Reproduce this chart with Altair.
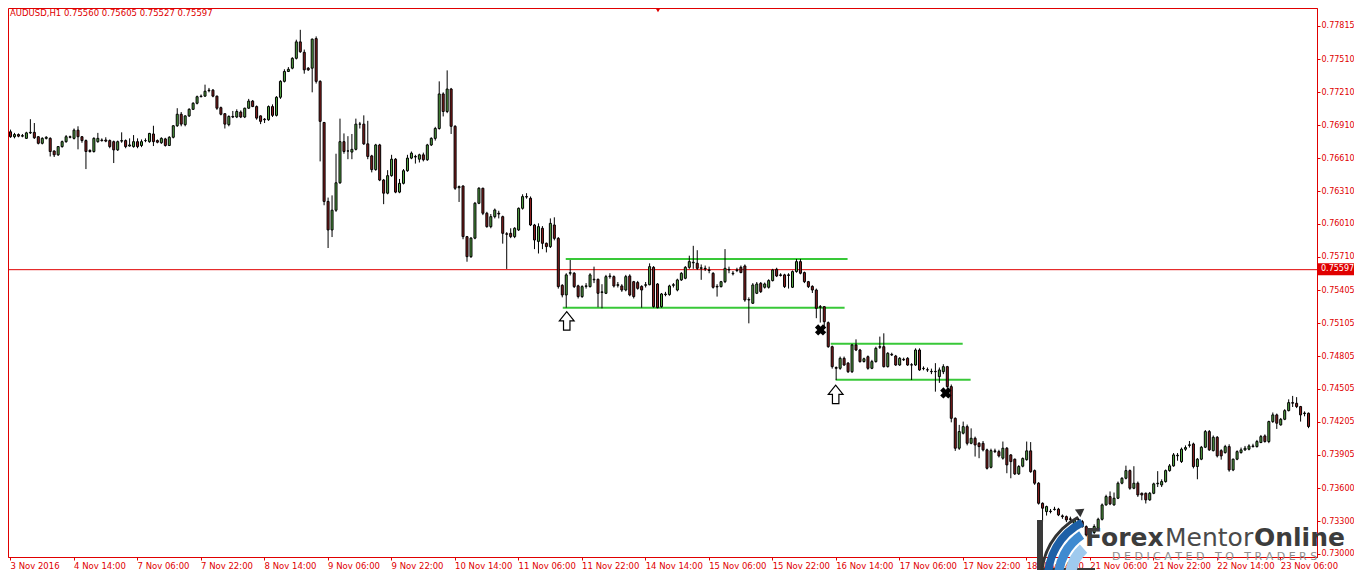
import altair as alt
import pandas as pd

# ---------------- data (prices x 1e5) ----------------
opens = [76850,76805,76825,76810,76790,76840,76845,76805,76745,76790,
 76790,76675,76640,76715,76760,76805,76790,76865,76805,76770,
 76680,76670,76760,76775,76775,76770,76760,76685,76765,76770,
 76720,76715,76760,76725,76770,76760,76830,76770,76750,76785,
 76725,76800,76905,77010,76915,76995,77055,77110,77170,77175,
 77225,77230,77175,77070,77015,76915,76990,76985,77030,76985,
 77065,77130,77080,76995,76965,76960,77080,77000,77165,77310,
 77400,77430,77520,77670,77575,77430,77430,77700,77310,76935,
 76215,75955,76135,76385,76760,76675,76665,76690,76920,76920,
 76740,76630,76505,76730,76410,76290,76450,76600,76300,76380,
 76495,76610,76620,76600,76640,76595,76730,76790,76880,77195,
 77035,77240,76900,76340,76356,75894,75711,75880,76198,76335,
 76107,75985,76076,76107,76076,75920,75924,75894,75955,76152,
 76259,76244,76000,75850,75970,75833,75803,76000,75878,75450,
 75362,75560,75560,75445,75347,75440,75438,75500,75505,75385,
 75377,75529,75529,75450,75444,75407,75535,75483,75475,75440,
 75450,75455,75614,75462,75255,75365,75365,75450,75407,75499,
 75514,75614,75655,75651,75605,75605,75590,75559,75440,75438,
 75483,75590,75555,75585,75614,75626,75316,75286,75377,75468,
 75432,75432,75493,75596,75545,75545,75545,75432,75575,75666,
 75566,75483,75440,75407,75255,75255,75109,74890,74700,74693,
 74784,74740,74662,74906,74860,74755,74799,74693,74754,74885,
 74890,74708,74820,74805,74723,74775,74784,74725,74723,74860,
 74690,74680,74665,74665,74617,74662,74708,74526,74237,73964,
 74101,74161,74009,74055,74009,74009,73949,73790,73940,73933,
 73873,73964,73903,73864,73730,73800,73860,73940,73760,73645,
 73462,73386,73390,73405,73408,73347,73340,73320,73220,73316,
 73295,73249,73190,73195,73234,73316,73447,73523,73447,73508,
 73645,73690,73760,73599,73645,73553,73553,73493,73553,73640,
 73629,73660,73760,73803,73895,73842,73955,73990,74003,73797,
 73864,73973,74116,73942,74064,73942,73924,73979,73766,73864,
 73924,73949,73955,73985,73979,74016,74076,74025,74207,74268,
 74177,74228,74307,74380,74374,74344,74280,74283]
highs = [76870,76840,76835,76830,76850,76965,76930,76810,76800,76810,
 76800,76680,76720,76770,76820,76815,76880,76900,76810,76780,
 76690,76800,76840,76790,76800,76780,76770,76770,76845,76780,
 76790,76820,76790,76780,76790,76840,76905,76780,76800,76795,
 76810,76910,77065,77030,77000,77065,77120,77180,77190,77280,
 77250,77240,77180,77080,77020,77000,77040,77055,77045,77070,
 77150,77140,77090,77000,76975,77090,77100,77175,77320,77420,
 77440,77530,77690,77780,77600,77440,77700,77720,77320,76940,
 76250,76270,76650,76970,76835,76810,76830,76970,76940,77000,
 76950,76640,76740,76740,76420,76500,76640,76610,76420,76510,
 76640,76670,76640,76650,76660,76740,76800,76895,77310,77210,
 77410,77250,76910,76360,76360,75900,75890,76210,76345,76340,
 76120,76100,76150,76130,76085,75935,75970,75980,76160,76280,
 76290,76260,76010,76015,75990,75840,76060,76070,75890,75460,
 75560,75681,75570,75455,75450,75470,75560,75620,75510,75460,
 75545,75560,75540,75480,75460,75545,75550,75490,75490,75450,
 75480,75650,75625,75470,75380,75390,75455,75470,75510,75570,
 75625,75720,75810,75770,75640,75630,75620,75570,75460,75490,
 75780,75620,75580,75610,75630,75640,75340,75470,75480,75480,
 75475,75505,75600,75610,75560,75555,75560,75585,75690,75690,
 75575,75490,75450,75420,75270,75260,75120,74900,74710,74800,
 74800,74750,74915,74957,74870,74790,74810,74770,74890,74982,
 75012,74840,74835,74815,74795,74790,74795,74740,74875,74875,
 74710,74700,74690,74740,74700,74730,74715,74545,74245,74177,
 74207,74180,74145,74070,74020,74030,73960,73960,73960,73950,
 74025,73975,73910,73870,73810,73880,74025,74020,73770,73655,
 73470,73440,73410,73430,73420,73360,73350,73340,73320,73330,
 73310,73260,73230,73270,73330,73460,73540,73570,73560,73660,
 73700,73805,73770,73800,73660,73560,73560,73565,73650,73755,
 73680,73770,73820,73920,73920,73970,73990,74030,74015,73875,
 73985,74130,74130,74080,74075,73955,73995,74000,73870,73945,
 73970,73985,74000,74005,74040,74085,74090,74215,74290,74280,
 74240,74320,74410,74441,74430,74350,74300,74290]
lows = [76795,76790,76800,76800,76785,76830,76785,76735,76735,76780,
 76625,76620,76630,76705,76750,76790,76780,76690,76750,76510,
 76660,76660,76750,76760,76755,76700,76565,76675,76750,76700,
 76715,76705,76700,76710,76755,76750,76720,76745,76740,76715,
 76720,76790,76895,76900,76900,76985,77050,77100,77165,77170,
 77210,77165,77050,77000,76880,76900,76975,76975,76975,76975,
 77060,77075,76960,76920,76930,76950,76985,76990,77150,77300,
 77395,77420,77510,77570,77380,77405,77210,77290,76580,76180,
 75790,75890,76120,76375,76650,76600,76600,76680,76880,76730,
 76600,76480,76495,76400,76190,76280,76440,76290,76290,76370,
 76485,76600,76560,76570,76580,76585,76720,76770,76870,76990,
 77020,76830,76320,76210,75870,75665,75700,75870,76190,76090,
 75975,75970,76060,76060,75830,75599,75880,75880,75945,76140,
 76240,75990,75780,75740,75780,75750,75790,75860,75420,75340,
 75246,75540,75425,75330,75335,75420,75430,75470,75250,75240,
 75370,75510,75430,75430,75390,75395,75350,75330,75410,75246,
 75430,75450,75246,75240,75246,75350,75355,75430,75395,75490,
 75505,75600,75600,75590,75500,75580,75560,75420,75347,75430,
 75470,75560,75540,75570,75560,75300,75103,75280,75370,75380,
 75420,75420,75485,75525,75530,75425,75420,75425,75565,75550,
 75470,75425,75380,75150,75110,75060,74880,74690,74586,74680,
 74715,74650,74650,74850,74745,74745,74680,74685,74745,74870,
 74700,74700,74805,74715,74715,74760,74715,74586,74715,74670,
 74675,74660,74640,74480,74560,74640,74500,74200,73940,73949,
 74090,73990,74000,73888,73873,73935,73770,73780,73920,73880,
 73860,73736,73690,73720,73720,73790,73850,73740,73630,73450,
 73295,73350,73370,73395,73345,73320,73290,73300,73200,73280,
 73240,73160,73170,73180,73220,73305,73440,73445,73440,73500,
 73635,73680,73585,73590,73520,73490,73460,73485,73545,73610,
 73610,73650,73750,73795,73850,73830,73940,73970,73780,73681,
 73855,73965,73940,73935,73880,73860,73915,73750,73755,73855,
 73915,73940,73945,73970,73970,74010,74015,74010,74195,74140,
 74170,74220,74300,74340,74330,74207,74255,74147]
closes = [76805,76825,76810,76815,76840,76845,76795,76745,76790,76800,
 76670,76640,76715,76760,76805,76800,76865,76805,76770,76670,
 76670,76790,76790,76770,76765,76715,76685,76760,76770,76715,
 76730,76760,76715,76760,76770,76835,76760,76755,76790,76725,
 76800,76905,77010,76920,76995,77055,77110,77170,77175,77220,
 77230,77175,77065,77010,76920,76990,76985,77035,76985,77065,
 77130,77080,76975,76945,76960,77080,77000,77165,77310,77400,
 77420,77520,77670,77580,77415,77415,77695,77310,76945,76215,
 75955,76135,76385,76760,76670,76675,76690,76920,76920,76740,
 76625,76505,76730,76410,76290,76450,76600,76300,76380,76495,
 76610,76655,76625,76640,76595,76730,76790,76880,77195,77035,
 77240,76900,76335,76350,75894,75711,75880,76198,76335,76107,
 75985,76076,76137,76100,75924,75915,75894,75970,76152,76259,
 76255,76000,75863,75985,75833,75803,76015,75878,75438,75362,
 75545,75565,75438,75347,75438,75445,75545,75505,75377,75390,
 75529,75535,75444,75455,75407,75529,75362,75347,75422,75407,
 75455,75620,75255,75246,75371,75370,75444,75455,75499,75559,
 75614,75666,75660,75605,75610,75600,75585,75432,75435,75483,
 75605,75595,75560,75590,75566,75316,75320,75453,75462,75392,
 75462,75493,75590,75535,75540,75438,75540,75575,75666,75560,
 75483,75438,75407,75240,75250,75118,74890,74708,74693,74784,
 74723,74662,74906,74860,74754,74780,74693,74754,74875,74890,
 74708,74830,74815,74723,74784,74770,74723,74723,74860,74678,
 74693,74678,74662,74662,74678,74708,74526,74237,73964,74116,
 74161,74009,74055,73994,73979,73949,73781,73942,73933,73894,
 73964,73812,73842,73730,73797,73870,73940,73750,73645,73462,
 73417,73432,73386,73408,73356,73340,73310,73315,73310,73310,
 73249,73173,73195,73250,73316,73447,73523,73456,73508,73645,
 73690,73760,73599,73645,73538,73538,73493,73553,73639,73645,
 73660,73760,73803,73903,73900,73955,73970,73995,73797,73864,
 73973,74116,73949,74064,73894,73894,73979,73766,73864,73933,
 73949,73964,73985,73979,74025,74070,74025,74207,74268,74192,
 74228,74307,74380,74375,74344,74268,74285,74162]

x_tick_index = [0, 16, 32, 48, 64, 80, 96, 112, 128, 144, 160, 176, 192,
                208, 224, 240, 256, 272, 288, 304, 320]
x_tick_text = ["3 Nov 2016", "4 Nov 14:00", "7 Nov 06:00", "7 Nov 22:00",
               "8 Nov 14:00", "9 Nov 06:00", "9 Nov 22:00", "10 Nov 14:00",
               "11 Nov 06:00", "11 Nov 22:00", "14 Nov 14:00", "15 Nov 06:00",
               "15 Nov 22:00", "16 Nov 14:00", "17 Nov 06:00", "17 Nov 22:00",
               "18 Nov 14:00", "21 Nov 06:00", "21 Nov 22:00", "22 Nov 14:00",
               "23 Nov 06:00"]
y_tick_values = [0.77815, 0.77510, 0.77210, 0.76910, 0.76610, 0.76310,
                 0.76010, 0.75710, 0.75405, 0.75105, 0.74805, 0.74505,
                 0.74205, 0.73905, 0.73600, 0.73300, 0.73000]

header = "AUDUSD,H1  0.75560 0.75605 0.75527 0.75597"
current_price = [0.75597]
current_label = ["0.75597"]

# support / resistance segments drawn on the chart
level_x1 = [140.0, 139.25, 206.75, 208.0]
level_x2 = [211.0, 210.25, 240.0, 242.0]
level_p = [0.75690, 0.75246, 0.74918, 0.74589]
arrow_x = [140.25, 208.0]
arrow_p = [0.75125, 0.74455]
cross_x = [204.2, 235.75]
cross_p = [0.75043, 0.74468]

# ---------------- styling ----------------
RED = "#e00000"
UP = "#55a845"
DOWN = "#8b1e1e"
LEVEL = "#38c838"
FONT = "DejaVu Sans"
W, H = 1309, 549
NB = "\u00a0"

xs = alt.Scale(domain=[0.75, 328], nice=False, zero=False)
ys = alt.Scale(domain=[0.72972, 0.77979], nice=False, zero=False)

label_expr = "%s[round(datum.value / 16)]" % str(x_tick_text).replace("'", '"')
x_axis = alt.Axis(values=x_tick_index, labelExpr=label_expr, title=None,
                  grid=False, labelAlign="left", labelPadding=1, tickSize=3,
                  tickColor=RED, domainColor=RED, labelColor=RED,
                  labelFont=FONT, labelFontSize=8.5, labelOverlap=False,
                  labelBound=False, labelFlush=False)
y_axis = alt.Axis(values=y_tick_values, format=".5f", orient="right",
                  title=None, grid=False, tickSize=3, labelPadding=1,
                  tickColor=RED, domainColor=RED, labelColor=RED,
                  labelFont=FONT, labelFontSize=8, labelOverlap=False,
                  labelFlush=False)


def XQ(f):
    return alt.X(f, type="quantitative", scale=xs, axis=x_axis)


def YQ(f):
    return alt.Y(f, type="quantitative", scale=ys, axis=y_axis)


df = pd.DataFrame({
    "i": list(range(len(opens))),
    "open": [v / 1e5 for v in opens],
    "high": [v / 1e5 for v in highs],
    "low": [v / 1e5 for v in lows],
    "close": [v / 1e5 for v in closes],
})
df["dir"] = ["up" if c >= o else "down" for o, c in zip(df["open"], df["close"])]

wicks = alt.Chart(df).mark_rule(color="black", strokeWidth=1, xOffset=0.5).encode(
    x=XQ("i"), y=YQ("low"), y2="high:Q")
bodies = alt.Chart(df).mark_bar(width=2, xOffset=0.5, stroke="black",
                                strokeWidth=1, opacity=1).encode(
    x=XQ("i"), y=YQ("open"), y2="close:Q",
    color=alt.Color("dir:N", scale=alt.Scale(domain=["up", "down"], range=[UP, DOWN]),
                    legend=None),
)

price_df = pd.DataFrame({"p": current_price, "label": current_label})
price_line = alt.Chart(price_df).mark_rule(color=RED, strokeWidth=1, yOffset=0.5).encode(
    y=YQ("p"))
price_box = alt.Chart(price_df).mark_rect(color=RED, yOffset=-6, y2Offset=6).encode(
    x=alt.value(W + 1), x2=alt.value(W + 37), y=YQ("p"), y2="p:Q")
price_text = alt.Chart(price_df).mark_text(align="left", baseline="middle", color="white",
                                           font=FONT, fontSize=8).encode(
    x=alt.value(W + 4), y=YQ("p"), text="label:N")

lv_df = pd.DataFrame({"x1": level_x1, "x2": level_x2, "p": level_p})
levels = alt.Chart(lv_df).mark_rule(color=LEVEL, strokeWidth=2).encode(
    x=XQ("x1"), x2="x2:Q", y=YQ("p"))

ARROW = "M-0.35,1 L0.35,1 L0.35,0 L0.8,0 L0,-1 L-0.8,0 L-0.35,0 Z"
ar_df = pd.DataFrame({"x": arrow_x, "p": arrow_p})
arrows = alt.Chart(ar_df).mark_point(shape=ARROW, size=340, filled=True, fill="white",
                                     stroke="black", strokeWidth=1.2, opacity=1).encode(
    x=XQ("x"), y=YQ("p"))
cr_df = pd.DataFrame({"x": cross_x, "p": cross_p})
crosses = alt.Chart(cr_df).mark_point(shape="cross", angle=45, size=130, filled=True,
                                      color="black", opacity=1).encode(
    x=XQ("x"), y=YQ("p"))

one = pd.DataFrame({"t": [header]})
head = alt.Chart(one).mark_text(align="left", baseline="middle", color=RED,
                                font=FONT, fontSize=8.5).encode(
    x=alt.value(2), y=alt.value(5), text="t:N")
top_mark = alt.Chart(one).mark_point(shape="triangle-down", size=30, filled=True,
                                     color=RED, opacity=1).encode(
    x=alt.value(650), y=alt.value(2))

# watermark logo (ForexMentorOnline)
GAP = NB + " " + NB
tagline = " ".join("DEDICATED") + GAP + " ".join("TO") + GAP + " ".join("TRADERS")
logo_df = pd.DataFrame({"a": ["Forex"], "b": ["Mentor"], "c": ["Online"], "d": [tagline]})
base = alt.Chart(logo_df)
logo = [
    base.mark_rect(color="#3a3a3a").encode(x=alt.value(1029), x2=alt.value(1035),
                                          y=alt.value(512), y2=alt.value(568)),
    base.mark_rect(color="#3a3a3a").encode(x=alt.value(1029), x2=alt.value(1087),
                                          y=alt.value(560), y2=alt.value(566)),
    base.mark_arc(radius=66, radius2=58, theta=4.66, theta2=5.82, color="#1d5fa6").encode(
        x=alt.value(1102), y=alt.value(570)),
    base.mark_arc(radius=56, radius2=47, theta=4.70, theta2=5.70, color="#3f8ad0").encode(
        x=alt.value(1102), y=alt.value(570)),
    base.mark_arc(radius=45, radius2=34, theta=4.75, theta2=5.55, color="#9fcaee").encode(
        x=alt.value(1102), y=alt.value(570)),
    base.mark_arc(radius=70, radius2=67, theta=4.66, theta2=5.80, color="#333333").encode(
        x=alt.value(1102), y=alt.value(570)),
    base.mark_point(shape="triangle-up", angle=55, size=90, filled=True, color="#333333",
                    opacity=1).encode(x=alt.value(1073), y=alt.value(503)),
    base.mark_text(align="left", baseline="alphabetic", font=FONT, fontSize=25,
                   fontWeight="bold", color="#3c3c3c").encode(
        x=alt.value(1077), y=alt.value(538), text="a:N"),
    base.mark_text(align="left", baseline="alphabetic", font=FONT, fontSize=25,
                   fontWeight="normal", color="#4a4a4a").encode(
        x=alt.value(1157), y=alt.value(538), text="b:N"),
    base.mark_text(align="left", baseline="alphabetic", font=FONT, fontSize=25,
                   fontWeight="bold", color="#3c3c3c").encode(
        x=alt.value(1246), y=alt.value(538), text="c:N"),
    base.mark_text(align="left", baseline="middle", font=FONT, fontSize=11,
                   color="#8e8e8e").encode(x=alt.value(1104), y=alt.value(549), text="d:N"),
]

chart = alt.layer(price_line, levels, wicks, bodies, arrows, crosses, head, top_mark,
                  price_box, price_text, *logo).properties(
    width=W, height=H,
    autosize=alt.AutoSizeParams(type="none"),
    padding={"left": 0, "top": 0, "right": 37, "bottom": 13},
).configure_view(stroke=RED, strokeWidth=1).configure_axis(grid=False)

chart.save("out.html", embed_options={"renderer": "svg", "actions": False})
